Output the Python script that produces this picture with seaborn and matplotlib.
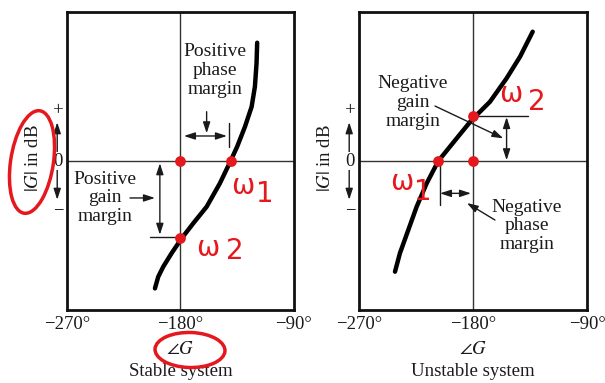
import matplotlib
matplotlib.use("Agg")
import matplotlib.pyplot as plt
from matplotlib.patches import Ellipse
import seaborn as sns
import pandas as pd

# Nichols chart sketch: stable vs unstable system (gain/phase margins)

# curve points (phase in deg, |G| in dB, arbitrary scale)
stable_phase = [-119.1, -119.6, -120.9, -123.5, -128.8, -135.0, -140.2, -148.7,
                -159.2, -169.8, -179.0, -187.0, -193.6, -197.6, -200.2]
stable_gain = [7.94, 6.56, 4.99, 3.64, 2.30, 0.96, 0.0, -1.50,
               -3.07, -4.18, -5.19, -6.19, -7.09, -7.77, -8.55]

unstable_phase = [-132.9, -142.9, -153.5, -166.6, -181.1, -192.9, -207.4,
                  -216.6, -224.5, -231.1, -237.7, -241.6]
unstable_gain = [8.68, 7.0, 5.55, 3.98, 2.75, 1.52, 0.0,
                 -1.50, -3.07, -4.63, -6.19, -7.43]

# red marks (crossover points)
stable_dots_x = [-180, -140.2, -180]
stable_dots_y = [0, 0, -5.2]
unstable_dots_x = [-180, -207.4, -180]
unstable_dots_y = [3.0, 0, 0]

tick_values = [-270, -180, -90]
tick_labels = ["\u2212270\u00b0", "\u2212180\u00b0", "\u221290\u00b0"]
titles = ["Stable system", "Unstable system"]

sns.set_theme(style="white")
plt.rcParams["font.family"] = ["Liberation Serif", "DejaVu Serif"]
plt.rcParams["mathtext.fontset"] = "stix"

INK = "#1a1a1a"
RED = "#e5181e"
FS = 13.5
FS_NOTE = 14

fig = plt.figure(figsize=(6.05, 3.83), dpi=100)
ax1 = fig.add_axes([0.1107, 0.1906, 0.375, 0.778])
ax2 = fig.add_axes([0.5934, 0.1906, 0.3769, 0.778])

arrow2 = dict(arrowstyle="<|-|>,head_length=0.55,head_width=0.18", color=INK, lw=1, shrinkA=0, shrinkB=0)
arrow1 = dict(arrowstyle="-|>,head_length=0.55,head_width=0.18", color=INK, lw=1, shrinkA=0, shrinkB=0)

# curves
df_s = pd.DataFrame({"phase": stable_phase, "gain": stable_gain})
df_u = pd.DataFrame({"phase": unstable_phase, "gain": unstable_gain})
sns.lineplot(data=df_s, x="phase", y="gain", sort=False, color="black", lw=3.2, ax=ax1)
sns.lineplot(data=df_u, x="phase", y="gain", sort=False, color="black", lw=3.2, ax=ax2)

for ax, title in zip([ax1, ax2], titles):
    ax.set_xlim(-270, -90)
    ax.set_ylim(-10, 10)
    ax.axvline(-180, color="#333333", lw=1)
    ax.axhline(0, color="#333333", lw=1)
    for s in ax.spines.values():
        s.set_visible(True)
        s.set_color("#111111")
        s.set_linewidth(2)
    ax.set_xticks(tick_values)
    ax.set_xticklabels(tick_labels, fontsize=FS, color=INK)
    ax.set_yticks([])
    ax.tick_params(axis="x", length=0, pad=4)
    ax.set_xlabel("")
    ax.set_ylabel(r"$|G|$ in dB", fontsize=FS, color=INK)
    ax.yaxis.set_label_coords(-0.11, 0.51)
    ax.text(0.5, -0.134, r"$\angle G$", transform=ax.transAxes, ha="center", va="center",
            fontsize=FS, color=INK)
    ax.text(0.5, -0.208, title, transform=ax.transAxes, ha="center", va="center",
            fontsize=FS, color=INK)
    # +, 0, - marks left of the axis with arrows
    tr = ax.get_yaxis_transform()
    ax.annotate("", xy=(-0.043, 2.6), xytext=(-0.043, 0), xycoords=tr, textcoords=tr,
                arrowprops=arrow1, annotation_clip=False)
    ax.annotate("", xy=(-0.043, -2.6), xytext=(-0.043, 0), xycoords=tr, textcoords=tr,
                arrowprops=arrow1, annotation_clip=False)
    ax.text(-0.04, 0, "0", transform=tr, ha="center", va="center", fontsize=FS, color=INK,
            bbox=dict(boxstyle="square,pad=0.05", fc="white", ec="none"))
    ax.text(-0.036, 3.4, "+", transform=tr, ha="center", va="center", fontsize=FS, color=INK)
    ax.text(-0.036, -3.4, "\u2212", transform=tr, ha="center", va="center", fontsize=FS, color=INK)

# stable annotations
ax1.text(-152.6, 6.1, "Positive\nphase\nmargin", ha="center", va="center", fontsize=FS_NOTE,
         color=INK, linespacing=1.15)
ax1.annotate("", xy=(-177.2, 1.68), xytext=(-143.1, 1.68), arrowprops=arrow2)
ax1.plot([-141.3, -141.3], [2.55, 0.96], color=INK, lw=1)
ax1.annotate("", xy=(-159.2, 1.86), xytext=(-159.2, 3.31), arrowprops=arrow1)
ax1.text(-239.9, -2.48, "Positive\ngain\nmargin", ha="center", va="center", fontsize=FS_NOTE,
         color=INK, linespacing=1.15)
ax1.annotate("", xy=(-200.2, -2.48), xytext=(-220, -2.48), arrowprops=arrow1)
ax1.annotate("", xy=(-196.3, -0.15), xytext=(-196.3, -4.95), arrowprops=arrow2)
ax1.plot([-204.2, -180.4], [-5.08, -5.08], color=INK, lw=1)

# unstable annotations
ax2.text(-227.4, 3.9, "Negative\ngain\nmargin", ha="center", va="center", fontsize=FS_NOTE,
         color=INK, linespacing=1.15)
ax2.annotate("", xy=(-156.1, 1.52), xytext=(-210.0, 3.69), arrowprops=arrow1)
ax2.plot([-180, -136.9], [3.04, 3.04], color=INK, lw=1)
ax2.annotate("", xy=(-153.5, 2.95), xytext=(-153.5, 0.05), arrowprops=arrow2)
ax2.text(-137.4, -4.36, "Negative\nphase\nmargin", ha="center", va="center", fontsize=FS_NOTE,
         color=INK, linespacing=1.15)
ax2.annotate("", xy=(-184.8, -2.82), xytext=(-162.7, -3.96), arrowprops=arrow1)
ax2.plot([-206.1, -206.1], [0, -2.95], color=INK, lw=1)
ax2.annotate("", xy=(-206.1, -2.17), xytext=(-181.6, -2.17), arrowprops=arrow2)

# red hand marks
ax1.scatter(stable_dots_x, stable_dots_y, s=60, color=RED, zorder=5, lw=0)
ax2.scatter(unstable_dots_x, unstable_dots_y, s=60, color=RED, zorder=5, lw=0)
hand = dict(color=RED, fontsize=20, family="DejaVu Sans", ha="center", va="center")
ax1.text(-130.4, -1.7, "\u03c9", **hand)
ax1.text(-113.0, -2.2, "1", **hand)
ax1.text(-158.2, -5.85, "\u03c9", **hand)
ax1.text(-137.0, -6.05, "2", **hand)
ax2.text(-150.1, 4.5, "\u03c9", **hand)
ax2.text(-129.5, 3.95, "2", **hand)
ax2.text(-236.1, -1.4, "\u03c9", **hand)
ax2.text(-220.0, -2.1, "1", **hand)

fig.patches.append(Ellipse((32 / 605, 1 - 162 / 383), 43 / 605, 103 / 383, angle=-5,
                           transform=fig.transFigure, fill=False, ec=RED, lw=2.5))
fig.patches.append(Ellipse((190 / 605, 1 - 350 / 383), 70 / 605, 35 / 383, angle=-4,
                           transform=fig.transFigure, fill=False, ec=RED, lw=2.5))

fig.savefig("out.png", dpi=100)
